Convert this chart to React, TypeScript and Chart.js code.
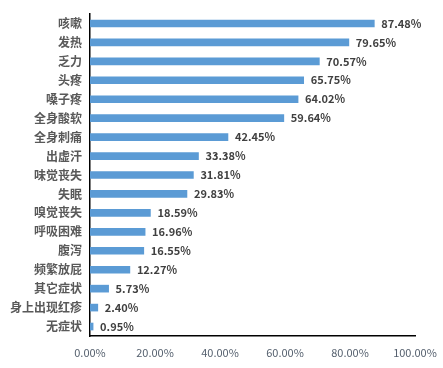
import React, { useEffect, useRef } from "react";
import { Chart, registerables } from "chart.js";

Chart.register(...registerables);

const categories = ["咳嗽", "发热", "乏力", "头疼", "嗓子疼", "全身酸软", "全身刺痛", "出虚汗", "味觉丧失", "失眠", "嗅觉丧失", "呼吸困难", "腹泻", "频繁放屁", "其它症状", "身上出现红疹", "无症状"];
const values = [87.48, 79.65, 70.57, 65.75, 64.02, 59.64, 42.45, 33.38, 31.81, 29.83, 18.59, 16.96, 16.55, 12.27, 5.73, 2.4, 0.95];
const xTicks = [0, 20, 40, 60, 80, 100];

const FONT = "'Noto Sans CJK SC', 'Noto Sans', sans-serif";

const valueLabels = {
  id: "valueLabels",
  afterDatasetsDraw(chart: any) {
    const ctx = chart.ctx;
    const meta = chart.getDatasetMeta(0);
    ctx.save();
    ctx.font = `bold 11px ${FONT}`;
    ctx.fillStyle = "#404040";
    ctx.textAlign = "left";
    ctx.textBaseline = "middle";
    meta.data.forEach((bar: any, i: number) => {
      ctx.fillText(values[i].toFixed(2) + "%", bar.x + 7, bar.y);
    });
    ctx.restore();
  },
};

export default function App() {
  const ref = useRef<HTMLCanvasElement>(null);
  useEffect(() => {
    document.body.style.margin = "0";
    const chart = new Chart(ref.current!, {
      type: "bar",
      data: {
        labels: categories,
        datasets: [{ data: values, backgroundColor: "#5B9BD5", barThickness: 7 }],
      },
      options: {
        indexAxis: "y",
        animation: false,
        responsive: false,
        layout: { padding: { top: 14, right: 28, left: 0, bottom: 0 } },
        plugins: { legend: { display: false }, tooltip: { enabled: false } },
        scales: {
          x: {
            min: 0,
            max: 100,
            afterBuildTicks(scale: any) {
              scale.ticks = xTicks.map((v) => ({ value: v }));
            },
            afterFit(scale: any) {
              scale.height = 32;
              scale.paddingLeft = 0;
              scale.paddingRight = 0;
            },
            grid: { display: false, drawTicks: false },
            border: { display: true, color: "#000", width: 1.5 },
            ticks: {
              padding: 10,
              color: "#55606e",
              font: { size: 11, family: FONT },
              callback: (v: any) => Number(v).toFixed(2) + "%",
            },
          },
          y: {
            afterFit(scale: any) {
              scale.width = 90;
              scale.paddingTop = 0;
              scale.paddingBottom = 0;
            },
            grid: { display: false, drawTicks: false },
            border: { display: true, color: "#000", width: 1.5 },
            ticks: {
              padding: 8,
              color: "#595959",
              font: { size: 12, weight: "bold", family: FONT },
            },
          },
        },
      },
      plugins: [valueLabels],
    });
    return () => chart.destroy();
  }, []);
  return (
    <div style={{ position: "absolute", left: 0, top: 0, width: 443, height: 368, background: "#fff" }}>
      <canvas ref={ref} width={443} height={368} />
    </div>
  );
}
